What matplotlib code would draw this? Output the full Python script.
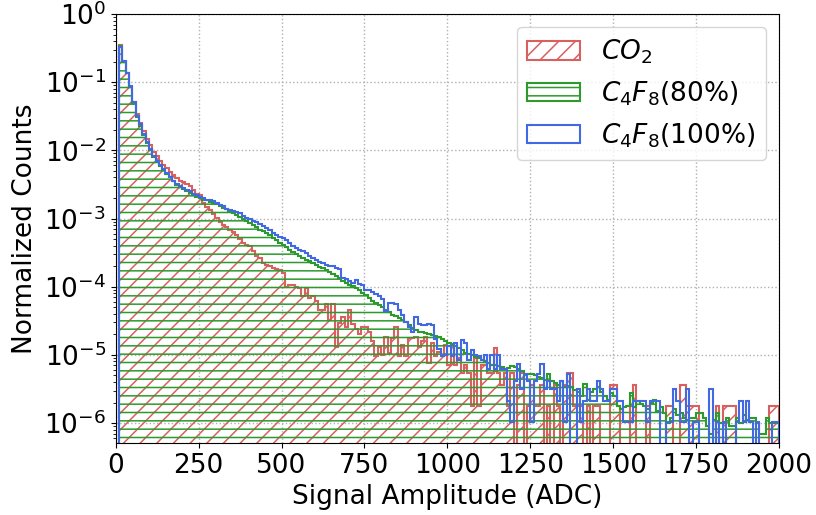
import numpy as np
import matplotlib
matplotlib.use("Agg")
import matplotlib.pyplot as plt

# Histogram bins: 200 bins of 10 ADC from 0 to 2000
bin_edges = np.arange(0, 2010, 10)

# Normalized counts per bin
co2 = [
    0, 0.35, 0.20, 0.135, 0.085, 0.052, 0.034, 0.025, 0.019, 0.0145,
    0.0118, 0.0096, 0.0082, 0.0070, 0.0062, 0.0055, 0.0048, 0.0043, 0.0039, 0.0036,
    0.0034, 0.0032, 0.0030, 0.0026, 0.0023, 0.0022, 0.0017, 0.0015, 0.00135, 0.00118,
    1.02e-3, 9.0e-4, 8.1e-4, 7.5e-4, 6.9e-4, 6.3e-4, 5.8e-4, 5.0e-4, 4.4e-4, 4.1e-4,
    3.9e-4, 3.3e-4, 2.8e-4, 2.6e-4, 2.2e-4, 2.1e-4, 2.0e-4, 1.9e-4, 1.8e-4, 1.78e-4,
    1.6e-4, 1.0e-4, 1.05e-4, 1.07e-4, 9.8e-5, 9.5e-5, 7.2e-5, 9.5e-5, 6.8e-5, 7.2e-5,
    6.2e-5, 4.6e-5, 4.6e-5, 5.5e-5, 3.2e-5, 5.5e-5, 1.3e-5, 2.9e-5, 3.6e-5, 2.6e-5,
    4.6e-5, 2.8e-5, 2.4e-5, 2.0e-5, 2.6e-5, 2.6e-5, 2.2e-5, 1.6e-5, 9.5e-6, 1.3e-5,
    1.0e-5, 1.85e-5, 1.05e-5, 1.75e-5, 2.6e-5, 9.5e-6, 1.4e-5, 9.5e-6, 1.75e-5, 1.75e-5,
    1.85e-5, 1.3e-5, 1.6e-5, 1.85e-5, 7.6e-6, 1.5e-5, 9.5e-6, 1.1e-5, 9.5e-6, 1.4e-5,
    7.2e-6, 1.4e-5, 7.2e-6, 9.0e-6, 5.4e-6, 7.2e-6, 5.4e-6, 1.8e-6, 9.0e-6, 1.8e-6,
    7.2e-6, 7.2e-6, 5.4e-6, 5.4e-6, 1.26e-5, 5.4e-6, 3.6e-6, 5.4e-6, 1.8e-6, 5.4e-6,
    0, 3.6e-6, 5.4e-6, 0, 1.8e-6, 3.6e-6, 1.8e-6, 1.8e-6, 3.6e-6, 0,
    1.8e-6, 0, 3.6e-6, 1.8e-6, 0, 3.6e-6, 5.4e-6, 5.4e-6, 1.8e-6, 1.8e-6,
    1.8e-6, 0, 1.8e-6, 0, 1.8e-6, 1.8e-6, 0, 0, 0, 3.6e-6,
    3.6e-6, 1.8e-6, 0, 0, 0, 1.8e-6, 3.6e-6, 0, 0, 0,
    1.8e-6, 0, 0, 0, 0, 0, 1.8e-6, 1.8e-6, 0, 0,
    3.6e-6, 3.6e-6, 1.8e-6, 1.8e-6, 1.8e-6, 1.8e-6, 0, 0, 0, 0,
    0, 1.8e-6, 0, 1.8e-6, 1.8e-6, 1.8e-6, 1.8e-6, 0, 0, 0,
    0, 0, 0, 0, 0, 0, 0, 1.8e-6, 1.8e-6, 1.8e-6,
]

c4f8_80 = [
    0, 0.34, 0.20, 0.135, 0.086, 0.050, 0.031, 0.023, 0.017, 0.013,
    0.0101, 0.0081, 0.0068, 0.0059, 0.0052, 0.0045, 0.0040, 0.0035, 0.0031, 0.0029,
    0.0027, 0.0025, 0.0024, 0.0022, 0.0021, 0.0020, 0.0019, 0.00185, 0.00175, 0.0017,
    1.62e-3, 1.55e-3, 1.45e-3, 1.37e-3, 1.3e-3, 1.22e-3, 1.13e-3, 1.05e-3, 9.8e-4, 9.1e-4,
    8.6e-4, 8.0e-4, 7.4e-4, 6.9e-4, 6.5e-4, 6.1e-4, 5.7e-4, 5.2e-4, 4.8e-4, 4.4e-4,
    4.1e-4, 3.8e-4, 3.5e-4, 3.2e-4, 2.98e-4, 2.8e-4, 2.62e-4, 2.48e-4, 2.35e-4, 2.22e-4,
    2.08e-4, 1.95e-4, 1.85e-4, 1.75e-4, 1.63e-4, 1.55e-4, 1.43e-4, 1.33e-4, 1.23e-4, 1.14e-4,
    1.07e-4, 1.01e-4, 9.6e-5, 8.8e-5, 8.2e-5, 7.5e-5, 6.8e-5, 6.2e-5, 5.8e-5, 5.4e-5,
    5.0e-5, 4.6e-5, 4.2e-5, 3.9e-5, 3.7e-5, 3.5e-5, 3.2e-5, 3.0e-5, 2.7e-5, 2.5e-5,
    2.3e-5, 2.2e-5, 2.15e-5, 2.1e-5, 2.0e-5, 1.95e-5, 1.88e-5, 1.8e-5, 1.7e-5, 1.58e-5,
    1.5e-5, 1.43e-5, 1.35e-5, 1.26e-5, 1.18e-5, 1.07e-5, 1.03e-5, 1.0e-5, 9.3e-6, 8.9e-6,
    8.5e-6, 8.0e-6, 7.6e-6, 7.1e-6, 7.0e-6, 6.8e-6, 6.6e-6, 6.3e-6, 6.5e-6, 6.8e-6,
    6.6e-6, 6.3e-6, 5.8e-6, 5.0e-6, 5.2e-6, 5.3e-6, 5.0e-6, 4.8e-6, 4.6e-6, 4.3e-6,
    5.2e-6, 4.1e-6, 3.9e-6, 3.6e-6, 4.1e-6, 3.4e-6, 3.5e-6, 3.4e-6, 3.1e-6, 2.9e-6,
    2.5e-6, 3.8e-6, 2.2e-6, 2.9e-6, 3.2e-6, 3.4e-6, 2.9e-6, 2.5e-6, 2.2e-6, 2.8e-6,
    2.5e-6, 1.8e-6, 1.6e-6, 1.7e-6, 1.8e-6, 2.8e-6, 1.7e-6, 2.1e-6, 1.9e-6, 1.8e-6,
    1.6e-6, 2.0e-6, 2.2e-6, 1.5e-6, 1.7e-6, 1.4e-6, 1.0e-6, 1.2e-6, 1.6e-6, 1.3e-6,
    1.4e-6, 1.2e-6, 1.1e-6, 1.2e-6, 1.2e-6, 1.4e-6, 1.4e-6, 1.2e-6, 9e-7, 7e-7,
    1.1e-6, 1.4e-6, 1.0e-6, 1.0e-6, 1.2e-6, 9e-7, 9e-7, 1.2e-6, 1.0e-6, 1.3e-6,
    1.1e-6, 1.2e-6, 1.2e-6, 1.0e-6, 7e-7, 7e-7, 1.2e-6, 1.0e-6, 1.0e-6, 1.0e-6,
]

c4f8_100 = [
    0, 0.33, 0.205, 0.138, 0.088, 0.051, 0.032, 0.024, 0.0173, 0.0132,
    0.0103, 0.0082, 0.0069, 0.0060, 0.0053, 0.0046, 0.0041, 0.0036, 0.0032, 0.0030,
    0.0028, 0.0026, 0.0025, 0.0023, 0.0022, 0.0021, 0.0020, 0.0019, 0.00185, 0.0018,
    1.7e-3, 1.6e-3, 1.55e-3, 1.4e-3, 1.35e-3, 1.3e-3, 1.25e-3, 1.2e-3, 1.08e-3, 1.02e-3,
    9.8e-4, 9.2e-4, 8.8e-4, 8.2e-4, 7.8e-4, 7.2e-4, 6.8e-4, 6.2e-4, 5.8e-4, 5.4e-4,
    5.1e-4, 4.9e-4, 4.4e-4, 4.0e-4, 3.7e-4, 3.5e-4, 3.3e-4, 3.1e-4, 2.8e-4, 2.6e-4,
    2.5e-4, 2.3e-4, 2.2e-4, 2.1e-4, 2.0e-4, 2.0e-4, 1.9e-4, 1.8e-4, 1.35e-4, 1.3e-4,
    1.2e-4, 1.15e-4, 1.26e-4, 1.1e-4, 1.07e-4, 8.9e-5, 8.8e-5, 8.5e-5, 7.8e-5, 7.2e-5,
    6.6e-5, 4.4e-5, 5.8e-5, 5.8e-5, 5.5e-5, 4.6e-5, 3.9e-5, 3.0e-5, 2.6e-5, 2.2e-5,
    3.6e-5, 2.8e-5, 2.7e-5, 2.7e-5, 2.8e-5, 2.7e-5, 1.7e-5, 1.2e-5, 9.5e-6, 1.0e-5,
    1.37e-5, 9.5e-6, 1.47e-5, 8.4e-6, 1.68e-5, 1.47e-5, 8.4e-6, 1.16e-5, 1.0e-5, 9.5e-6,
    8.4e-6, 1.0e-5, 6.3e-6, 1.0e-5, 6.3e-6, 1.0e-5, 6.3e-6, 6.3e-6, 2.1e-6, 1.05e-6,
    4.2e-6, 7.35e-6, 3.15e-6, 5.25e-6, 4.2e-6, 1.05e-6, 4.2e-6, 5.25e-6, 7.35e-6, 3.15e-6,
    4.2e-6, 3.15e-6, 3.15e-6, 2.1e-6, 4.2e-6, 1.05e-6, 5.25e-6, 0, 0, 3.15e-6,
    1.05e-6, 2.1e-6, 3.15e-6, 2.1e-6, 2.1e-6, 4.2e-6, 3.15e-6, 2.1e-6, 2.1e-6, 3.15e-6,
    3.15e-6, 2.1e-6, 2.1e-6, 1.05e-6, 1.05e-6, 1.05e-6, 2.1e-6, 2.1e-6, 2.1e-6, 2.1e-6,
    1.05e-6, 2.1e-6, 2.1e-6, 2.1e-6, 0, 0, 1.05e-6, 1.05e-6, 3.15e-6, 2.1e-6,
    1.05e-6, 1.05e-6, 3.15e-6, 0, 1.05e-6, 1.05e-6, 0, 0, 0, 3.15e-6,
    0, 1.05e-6, 0, 1.05e-6, 0, 0, 0, 1.05e-6, 2.1e-6, 1.05e-6,
    2.1e-6, 1.05e-6, 0, 1.05e-6, 0, 0, 0, 0, 1.05e-6, 1.05e-6,
]

labels = [r"$CO_2$", r"$C_4F_8(80\%)$", r"$C_4F_8(100\%)$"]
colors = ["#d8605f", "#2c9a2c", "#4169e1"]
hatches = ["//", "--", None]

plt.rcParams["font.size"] = 19
plt.rcParams["hatch.linewidth"] = 1.1

fig = plt.figure(figsize=(8.16, 5.15), dpi=100)
ax = fig.add_axes([0.1418, 0.1398, 0.8129, 0.833])

centers = bin_edges[:-1] + 5
for vals, lab, col, hat in zip([co2, c4f8_80, c4f8_100], labels, colors, hatches):
    ax.hist(centers, bins=bin_edges, weights=vals, histtype="step", log=True,
            color=col, hatch=hat, linewidth=1.5, label=lab)

ax.set_xlim(0, 2000)
ax.set_ylim(5.1e-7, 1)
ax.set_xticks(np.arange(0, 2001, 250))
ax.grid(True, linestyle=":", linewidth=1.0, color="#b0b0b0")
ax.set_xlabel("Signal Amplitude (ADC)")
ax.set_ylabel("Normalized Counts")
ax.legend(loc="upper right")

fig.savefig("out.png", dpi=100)
